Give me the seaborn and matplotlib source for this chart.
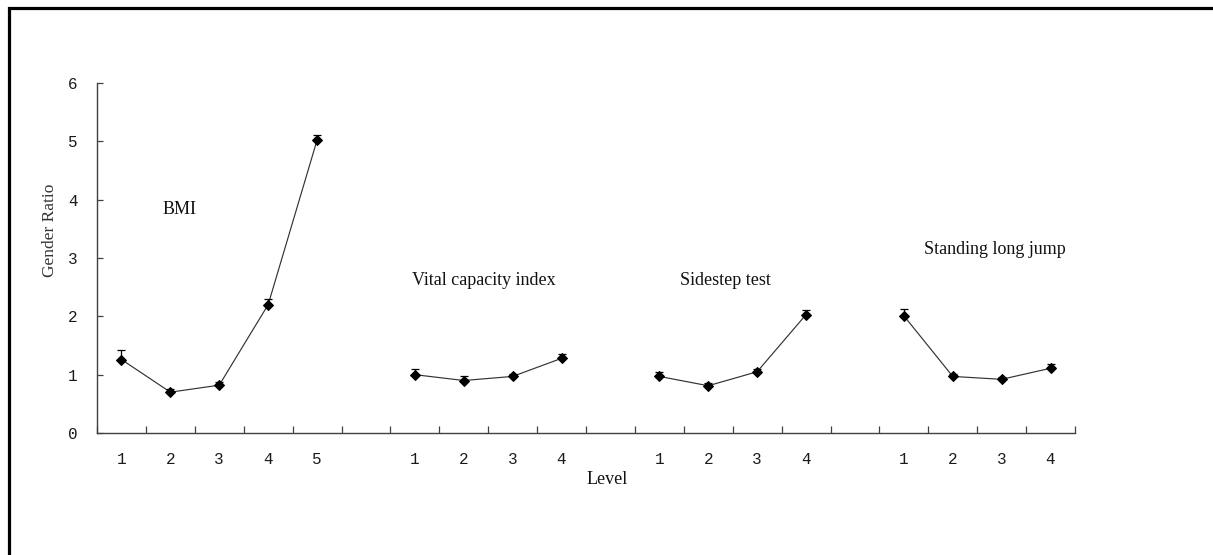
import numpy as np
import pandas as pd
import matplotlib
matplotlib.use("Agg")
import matplotlib.pyplot as plt
from matplotlib.patches import Rectangle
import seaborn as sns

# ---- data ----
tests = ["BMI", "Vital capacity index", "Sidestep test", "Standing long jump"]
bmi_levels = [1, 2, 3, 4, 5]
bmi_ratio = [1.26, 0.70, 0.82, 2.20, 5.02]
bmi_upper = [1.43, 0.76, 0.87, 2.30, 5.11]

vc_levels = [1, 2, 3, 4]
vc_ratio = [1.00, 0.90, 0.97, 1.28]
vc_upper = [1.10, 0.98, 1.02, 1.36]

ss_levels = [1, 2, 3, 4]
ss_ratio = [0.97, 0.81, 1.05, 2.03]
ss_upper = [1.04, 0.85, 1.10, 2.11]

slj_levels = [1, 2, 3, 4]
slj_ratio = [2.01, 0.97, 0.92, 1.11]
slj_upper = [2.13, 1.01, 0.96, 1.19]

y_ticks = [0, 1, 2, 3, 4, 5, 6]

groups = [
    (tests[0], bmi_levels, bmi_ratio, bmi_upper),
    (tests[1], vc_levels, vc_ratio, vc_upper),
    (tests[2], ss_levels, ss_ratio, ss_upper),
    (tests[3], slj_levels, slj_ratio, slj_upper),
]

# Build slots: each group followed by one empty slot
rows = []
slot_labels = []
slot = 0
for gi, (name, lv, r, u) in enumerate(groups):
    for l, rv, uv in zip(lv, r, u):
        rows.append(dict(test=name, level=l, slot=slot, ratio=rv, upper=uv))
        slot_labels.append(str(l))
        slot += 1
    if gi < len(groups) - 1:
        slot_labels.append("")
        slot += 1
df = pd.DataFrame(rows)
n_slots = len(slot_labels)

# ---- figure ----
sns.set_theme(style="white")
plt.rcParams["font.family"] = ["Liberation Serif", "DejaVu Serif"]

W, H = 1213, 555
fig = plt.figure(figsize=(W / 100, H / 100), dpi=100)
ax = fig.add_axes([97 / W, 1 - 433 / H, (1075 - 97) / W, (433 - 83) / H])

sns.lineplot(data=df, x="slot", y="ratio", units="test", estimator=None,
             color="#333333", linewidth=0.85, marker="D", markersize=5.5,
             markerfacecolor="black", markeredgecolor="black", ax=ax,
             legend=False)

ax.errorbar(df["slot"], df["ratio"],
            yerr=[np.zeros(len(df)), df["upper"] - df["ratio"]],
            fmt="none", ecolor="black", elinewidth=0.9, capsize=3,
            capthick=0.9, zorder=3)

ax.set_xlim(-0.5, n_slots - 0.5)
ax.set_ylim(0, 6)
ax.set_yticks(y_ticks)
ax.set_xticks(np.arange(n_slots))
ax.set_xticklabels(slot_labels)
ax.set_xticks(np.arange(n_slots + 1) - 0.5, minor=True)

for lbl in ax.get_xticklabels() + ax.get_yticklabels():
    lbl.set_fontfamily("Liberation Mono")
    lbl.set_fontsize(11.5)
    lbl.set_color("#1a1a1a")

ax.tick_params(axis="x", which="major", length=0, pad=14)
ax.tick_params(axis="x", which="minor", direction="in", length=5,
               width=0.9, color="#404040", bottom=True)
ax.tick_params(axis="y", which="major", direction="in", length=4,
               width=0.9, color="#404040", pad=14, left=True)

for s in ["top", "right"]:
    ax.spines[s].set_visible(False)
for s in ["left", "bottom"]:
    ax.spines[s].set_color("#404040")
    ax.spines[s].set_linewidth(1.0)

ax.set_xlabel("")
ax.set_ylabel("")
ax.set_facecolor("white")

# group annotations
label_pos = {
    tests[0]: (0.83, 3.84),
    tests[1]: (5.94, 2.62),
    tests[2]: (11.42, 2.62),
    tests[3]: (16.42, 3.15),
}
for name, (xx, yy) in label_pos.items():
    ax.text(xx, yy, name, fontsize=13, color="#111111",
            ha="left", va="center")

fig.text(607 / W, 1 - 480 / H, "Level", fontsize=13, color="#111111",
         ha="center", va="center")
fig.text(50 / W, 1 - 230 / H, "Gender Ratio", fontsize=12.5,
         color="#333333", rotation=90, ha="center", va="center")

# outer frame (cut off at right/bottom like the reference)
fig.add_artist(Rectangle((9 / W, -0.2), 1.5, 1 - 8 / H + 0.2, fill=False,
                         lw=2.3, edgecolor="black",
                         transform=fig.transFigure))

fig.savefig("out.png", dpi=100, facecolor="white")
